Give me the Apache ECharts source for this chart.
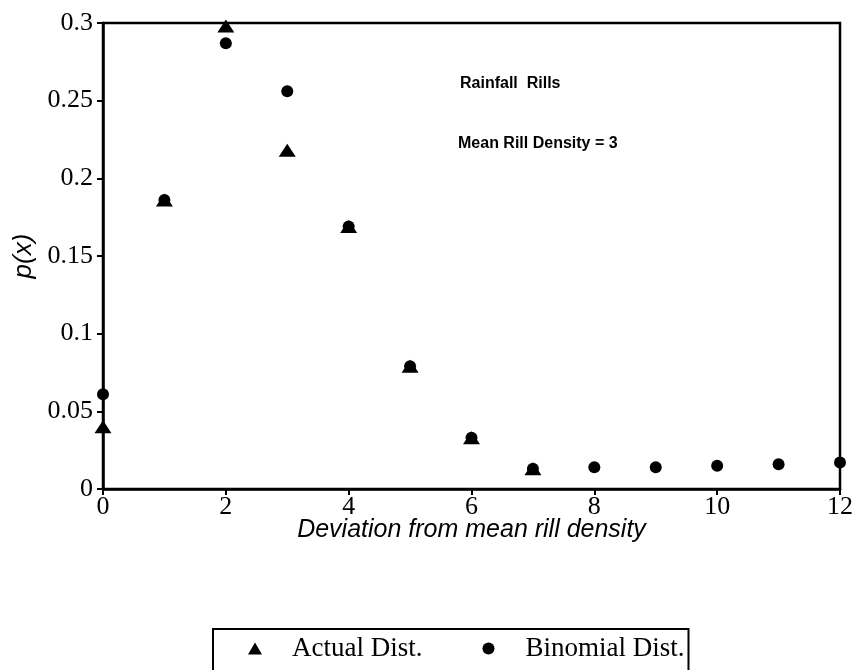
<!DOCTYPE html>
<html>
<head>
<meta charset="utf-8">
<script src="https://cdn.jsdelivr.net/npm/echarts@6/dist/echarts.min.js"></script>
<style>
  html, body { margin: 0; padding: 0; background: #fff; }
  #chart { width: 862px; height: 670px; }
</style>
</head>
<body>
<div id="chart"></div>
<script>
// Data
const actualX = [0, 1, 2, 3, 4, 5, 6, 7];
const actualY = [0.040, 0.186, 0.298, 0.218, 0.169, 0.079, 0.033, 0.013];
const binomialX = [0, 1, 2, 3, 4, 5, 6, 7, 8, 9, 10, 11, 12];
const binomialY = [0.061, 0.186, 0.287, 0.256, 0.169, 0.079, 0.033, 0.013, 0.014, 0.014, 0.015, 0.016, 0.017];
const xTicks = [0, 2, 4, 6, 8, 10, 12];
const yTicks = [0, 0.05, 0.1, 0.15, 0.2, 0.25, 0.3];
const seriesNames = ['Actual Dist.', 'Binomial Dist.'];
const annotations = ['Rainfall  Rills', 'Mean Rill Density = 3'];
const xTitle = 'Deviation from mean rill density';
const yTitle = 'p(x)';

const pair = (xs, ys) => xs.map((x, i) => [x, ys[i]]);

const chart = echarts.init(document.getElementById('chart'), null, { renderer: 'canvas' });
const serif = '"Liberation Serif", "Times New Roman", serif';
const sans = '"Liberation Sans", Arial, sans-serif';

chart.setOption({
  backgroundColor: '#ffffff',
  animation: false,
  grid: {
    left: 103, right: 22, top: 23, bottom: 181,
    show: true, borderColor: '#000', borderWidth: 2.5, backgroundColor: 'transparent'
  },
  xAxis: {
    type: 'value',
    min: xTicks[0], max: xTicks[xTicks.length - 1], interval: 2,
    name: xTitle, nameLocation: 'middle', nameGap: 29, nameMoveOverlap: false,
    nameTextStyle: { fontFamily: sans, fontStyle: 'italic', fontSize: 25, color: '#000' },
    axisLine: { show: true, lineStyle: { color: '#000', width: 2.5 } },
    axisTick: { show: true, inside: false, length: 6, lineStyle: { color: '#000', width: 2 } },
    axisLabel: { margin: 5, fontFamily: serif, fontSize: 26, color: '#000' },
    splitLine: { show: false }
  },
  yAxis: {
    type: 'value',
    min: yTicks[0], max: yTicks[yTicks.length - 1], interval: 0.05,
    name: yTitle, nameLocation: 'middle', nameGap: 65, nameRotate: 90,
    nameTextStyle: { fontFamily: sans, fontStyle: 'italic', fontSize: 26, color: '#000' },
    axisLine: { show: true, lineStyle: { color: '#000', width: 2.5 } },
    axisTick: { show: true, inside: false, length: 6, lineStyle: { color: '#000', width: 2 } },
    axisLabel: {
      margin: 10, fontFamily: serif, fontSize: 26, color: '#000',
      formatter: v => String(parseFloat(v.toFixed(2)))
    },
    splitLine: { show: false }
  },
  legend: {
    left: 213, top: 629,
    orient: 'horizontal',
    data: [
      { name: seriesNames[0], icon: 'triangle' },
      { name: seriesNames[1], icon: 'circle' }
    ],
    itemWidth: 14, itemHeight: 12, itemGap: 60,
    padding: [6, 4, 14, 35],
    borderColor: '#000', borderWidth: 2,
    itemStyle: { opacity: 1 },
    formatter: n => '{g|}{t|' + n + '}',
    textStyle: {
      color: '#000',
      rich: {
        g: { width: 25 },
        t: { fontFamily: serif, fontSize: 27, color: '#000' }
      }
    }
  },
  graphic: [
    { type: 'text', left: 460, top: 76,
      style: { text: annotations[0], fontFamily: '"Liberation Sans Narrow", ' + sans, fontWeight: 'bold', fontSize: 16, fill: '#000' } },
    { type: 'text', left: 458, top: 136,
      style: { text: annotations[1], fontFamily: '"Liberation Sans Narrow", ' + sans, fontWeight: 'bold', fontSize: 16, fill: '#000' } }
  ],
  series: [
    {
      name: seriesNames[0], type: 'scatter', symbol: 'triangle', symbolSize: [17, 13],
      itemStyle: { color: '#000', opacity: 1 }, data: pair(actualX, actualY), z: 3
    },
    {
      name: seriesNames[1], type: 'scatter', symbol: 'circle', symbolSize: 12,
      itemStyle: { color: '#000', opacity: 1 }, data: pair(binomialX, binomialY), z: 4
    }
  ]
});
</script>
</body>
</html>
